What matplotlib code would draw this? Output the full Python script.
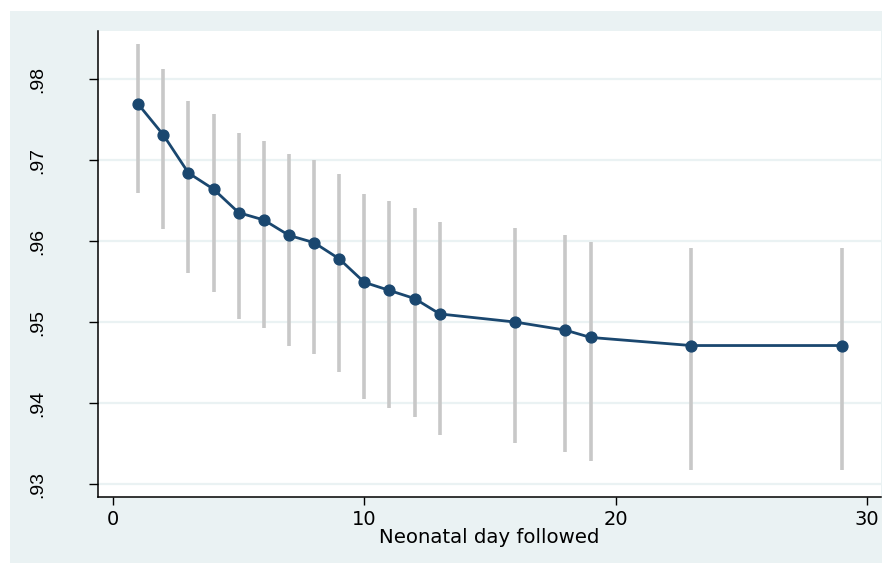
import matplotlib
matplotlib.use("Agg")
import matplotlib.pyplot as plt
from matplotlib.patches import Rectangle

days = [1, 2, 3, 4, 5, 6, 7, 8, 9, 10, 11, 12, 13, 16, 18, 19, 23, 29]
estimate = [0.9769, 0.9731, 0.9684, 0.9664, 0.9635, 0.9626, 0.9607, 0.9598, 0.9578,
            0.9549, 0.9539, 0.9529, 0.9510, 0.9500, 0.9490, 0.9481, 0.9471, 0.9471]
ci_upper = [0.9843, 0.9812, 0.9773, 0.9757, 0.9733, 0.9724, 0.9708, 0.9700, 0.9683,
            0.9658, 0.9650, 0.9641, 0.9624, 0.9616, 0.9607, 0.9599, 0.9591, 0.9591]
ci_lower = [0.9659, 0.9615, 0.9560, 0.9537, 0.9504, 0.9493, 0.9471, 0.9460, 0.9438,
            0.9405, 0.9394, 0.9383, 0.9361, 0.9351, 0.9340, 0.9328, 0.9317, 0.9317]
y_ticks = [0.93, 0.94, 0.95, 0.96, 0.97, 0.98]
y_labels = [".93", ".94", ".95", ".96", ".97", ".98"]
x_ticks = [0, 10, 20, 30]
x_label = "Neonatal day followed"

plt.rcParams['font.family'] = ['DejaVu Sans']

W, H = 889, 563
fig = plt.figure(figsize=(W / 100, H / 100), dpi=100, facecolor="white")
bg = Rectangle((10 / W, 1 - 563 / H), (882 - 10) / W, (563 - 11) / H,
               transform=fig.transFigure, facecolor="#EAF2F3", edgecolor="none", zorder=-10)
fig.add_artist(bg)

ax = fig.add_axes([98 / W, 1 - 497 / H, (881 - 98) / W, (497 - 31) / H])
ax.set_zorder(1)
ax.set_facecolor("white")

ax.vlines(days, ci_lower, ci_upper, color="#C8C8C8", linewidth=2.6, zorder=2)
ax.plot(days, estimate, color="#1A476F", linewidth=2.0, marker="o", markersize=7.8,
        markerfacecolor="#1A476F", markeredgecolor="#1A476F", zorder=3)

ax.set_xlim(-0.6, 30.56)
ax.set_ylim(0.92840, 0.98593)

ax.set_yticks(y_ticks)
ax.set_yticklabels(y_labels, rotation=90, va="center", fontsize=14,
                   family=['Liberation Sans', 'DejaVu Sans'])
ax.set_xticks(x_ticks)
ax.set_xticklabels([str(t) for t in x_ticks], fontsize=14)

ax.yaxis.grid(True, color="#EAF2F3", linewidth=1.6)
ax.xaxis.grid(False)
ax.set_axisbelow(True)

for s in ["top", "right"]:
    ax.spines[s].set_visible(False)
for s in ["left", "bottom"]:
    ax.spines[s].set_color("black")
    ax.spines[s].set_linewidth(1.1)

ax.tick_params(axis="y", direction="out", length=6.5, width=1.0, pad=31, colors="black")
ax.tick_params(axis="x", direction="out", length=6.0, width=1.0, pad=3.5, colors="black")

ax.set_xlabel(x_label, fontsize=14.2, va="top")
ax.xaxis.set_label_coords(0.5, -(528 - 497) / (497 - 31))

fig.savefig("out.png", dpi=100, facecolor=fig.get_facecolor())
